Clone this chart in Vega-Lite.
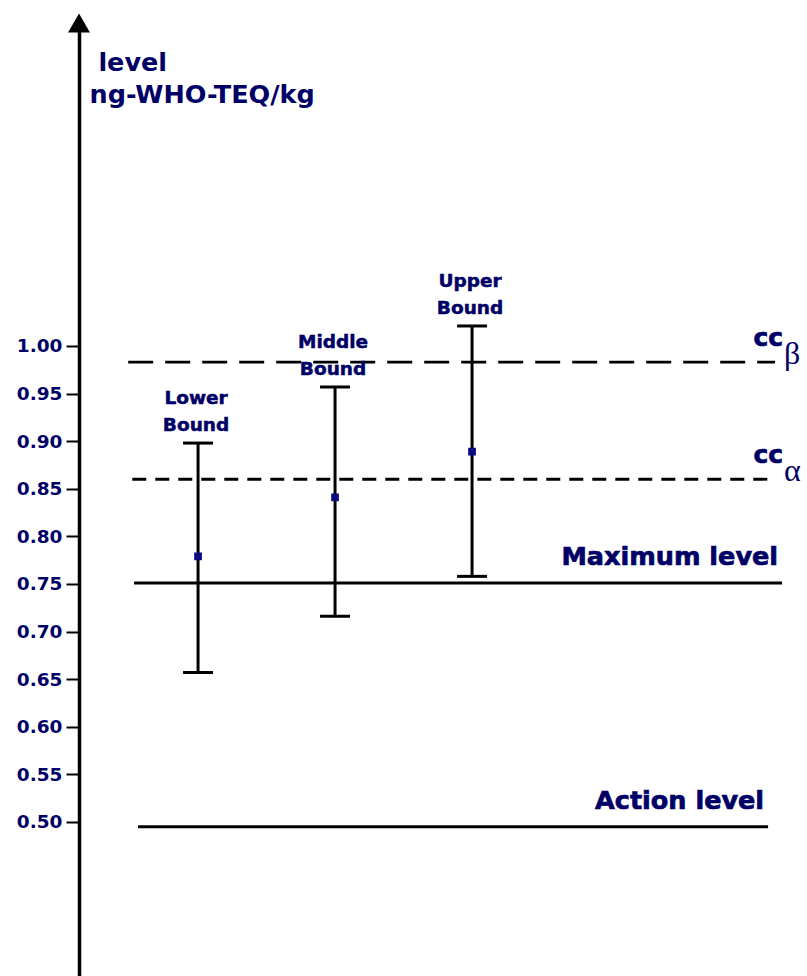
{
  "$schema": "https://vega.github.io/schema/vega-lite/v6.json",
  "width": 728,
  "height": 946,
  "autosize": {"type": "none"},
  "padding": {"left": 79, "top": 30, "right": 0, "bottom": 0},
  "background": "white",
  "config": {"view": {"stroke": null}, "font": "DejaVu Sans"},
  "datasets": {
    "bounds": [
      {"bound": "Lower Bound", "pos": 1, "lo": 0.657, "mid": 0.779, "hi": 0.898},
      {"bound": "Middle Bound", "pos": 2, "lo": 0.716, "mid": 0.841, "hi": 0.957},
      {"bound": "Upper Bound", "pos": 3, "lo": 0.758, "mid": 0.889, "hi": 1.021}
    ],
    "levels": [
      {"level": "CCβ", "main": "cc", "sub": "β", "value": 0.983, "start": 0.49, "end": 5.212},
      {"level": "CCα", "main": "cc", "sub": "α", "value": 0.860, "start": 0.52, "end": 5.212},
      {"level": "Maximum level", "value": 0.751, "start": 0.533, "end": 5.263},
      {"level": "Action level", "value": 0.495, "start": 0.562, "end": 5.161}
    ]
  },
  "layer": [
    {
      "data": {"name": "levels"},
      "mark": {"type": "rule", "color": "black"},
      "encoding": {
        "x": {"field": "start", "type": "quantitative", "scale": {"domain": [0.131, 5.445], "nice": false, "zero": false}, "axis": null},
        "x2": {"field": "end"},
        "y": {
          "field": "value", "type": "quantitative",
          "scale": {"domain": [0.3382, 1.3319], "nice": false, "zero": false},
          "axis": {
            "values": [0.5, 0.55, 0.6, 0.65, 0.7, 0.75, 0.8, 0.85, 0.9, 0.95, 1.0],
            "format": ".2f", "grid": false,
            "domainColor": "black", "domainWidth": 3.5,
            "tickColor": "black", "tickWidth": 2, "tickSize": 13,
            "labelFont": "DejaVu Sans", "labelFontWeight": "bold", "labelFontSize": 18.5,
            "labelColor": "#000066", "labelPadding": 4, "labelFlush": false, "labelOverlap": false,
            "title": ["\u200b\u00a0level", "ng-WHO-TEQ/kg"],
            "titleAngle": 0, "titleX": 10, "titleY": 40, "titleAlign": "left", "titleBaseline": "alphabetic",
            "titleFont": "DejaVu Sans", "titleFontSize": 25.5, "titleFontWeight": "bold",
            "titleColor": "#000066", "titleLineHeight": 32,
            "encode": {
              "labels": {"update": {"stroke": {"value": "#000066"}, "strokeWidth": {"value": 0.7}}},
              "title": {"update": {"stroke": {"value": "#000066"}, "strokeWidth": {"value": 0.8}}}
            }
          }
        },
        "strokeDash": {"field": "level", "type": "nominal", "scale": {"domain": ["CCβ", "CCα", "Maximum level", "Action level"], "range": [[25, 12], [14, 9], [1, 0], [1, 0]]}, "legend": null},
        "strokeWidth": {"field": "level", "type": "nominal", "scale": {"domain": ["CCβ", "CCα", "Maximum level", "Action level"], "range": [2.8, 2.8, 3.5, 3]}, "legend": null}
      }
    },
    {
      "data": {"name": "levels"},
      "transform": [{"filter": "datum.level === 'Maximum level' || datum.level === 'Action level'"}],
      "mark": {"type": "text", "align": "right", "baseline": "alphabetic", "dx": -4, "dy": -18, "font": "DejaVu Sans", "fontWeight": "bold", "fontSize": 25.5, "color": "#000066", "stroke": "#000066", "strokeWidth": 0.7},
      "encoding": {
        "x": {"field": "end", "type": "quantitative"},
        "y": {"field": "value", "type": "quantitative"},
        "text": {"field": "level"}
      }
    },
    {
      "data": {"name": "levels"},
      "transform": [{"filter": "datum.main"}],
      "mark": {"type": "text", "align": "right", "baseline": "alphabetic", "dx": 8, "dy": -16, "font": "DejaVu Sans", "fontWeight": "bold", "fontSize": 25, "color": "#000066", "stroke": "#000066", "strokeWidth": 0.7},
      "encoding": {
        "x": {"field": "end", "type": "quantitative"},
        "y": {"field": "value", "type": "quantitative"},
        "text": {"field": "main"}
      }
    },
    {
      "data": {"name": "levels"},
      "transform": [{"filter": "datum.sub"}],
      "mark": {"type": "text", "align": "left", "baseline": "alphabetic", "dx": 9, "dy": 2, "font": "Liberation Serif", "fontWeight": "normal", "fontSize": 32, "color": "#000066"},
      "encoding": {
        "x": {"field": "end", "type": "quantitative"},
        "y": {"field": "value", "type": "quantitative"},
        "text": {"field": "sub"}
      }
    },
    {
      "data": {"name": "bounds"},
      "mark": {"type": "rule", "color": "black", "strokeWidth": 3},
      "encoding": {
        "x": {"field": "pos", "type": "quantitative"},
        "y": {"field": "lo", "type": "quantitative"},
        "y2": {"field": "hi"}
      }
    },
    {
      "data": {"name": "bounds"},
      "mark": {"type": "tick", "orient": "horizontal", "size": 30, "thickness": 3, "color": "black", "opacity": 1},
      "encoding": {
        "x": {"field": "pos", "type": "quantitative"},
        "y": {"field": "lo", "type": "quantitative"}
      }
    },
    {
      "data": {"name": "bounds"},
      "mark": {"type": "tick", "orient": "horizontal", "size": 30, "thickness": 3, "color": "black", "opacity": 1},
      "encoding": {
        "x": {"field": "pos", "type": "quantitative"},
        "y": {"field": "hi", "type": "quantitative"}
      }
    },
    {
      "data": {"name": "bounds"},
      "mark": {"type": "point", "shape": "square", "filled": true, "size": 60, "color": "#0a0a80", "opacity": 1},
      "encoding": {
        "x": {"field": "pos", "type": "quantitative"},
        "y": {"field": "mid", "type": "quantitative"}
      }
    },
    {
      "data": {"name": "bounds"},
      "mark": {"type": "text", "lineBreak": " ", "align": "center", "baseline": "alphabetic", "dx": -2, "dy": -39, "lineHeight": 27, "font": "DejaVu Sans", "fontWeight": "bold", "fontSize": 18.5, "color": "#000066", "stroke": "#000066", "strokeWidth": 0.5},
      "encoding": {
        "x": {"field": "pos", "type": "quantitative"},
        "y": {"field": "hi", "type": "quantitative"},
        "text": {"field": "bound"}
      }
    },
    {
      "data": {"values": [{}]},
      "mark": {"type": "point", "shape": "triangle-up", "filled": true, "size": 480, "color": "black", "opacity": 1},
      "encoding": {
        "x": {"datum": 0.131, "type": "quantitative"},
        "y": {"datum": 1.3393, "type": "quantitative"}
      }
    }
  ]
}
